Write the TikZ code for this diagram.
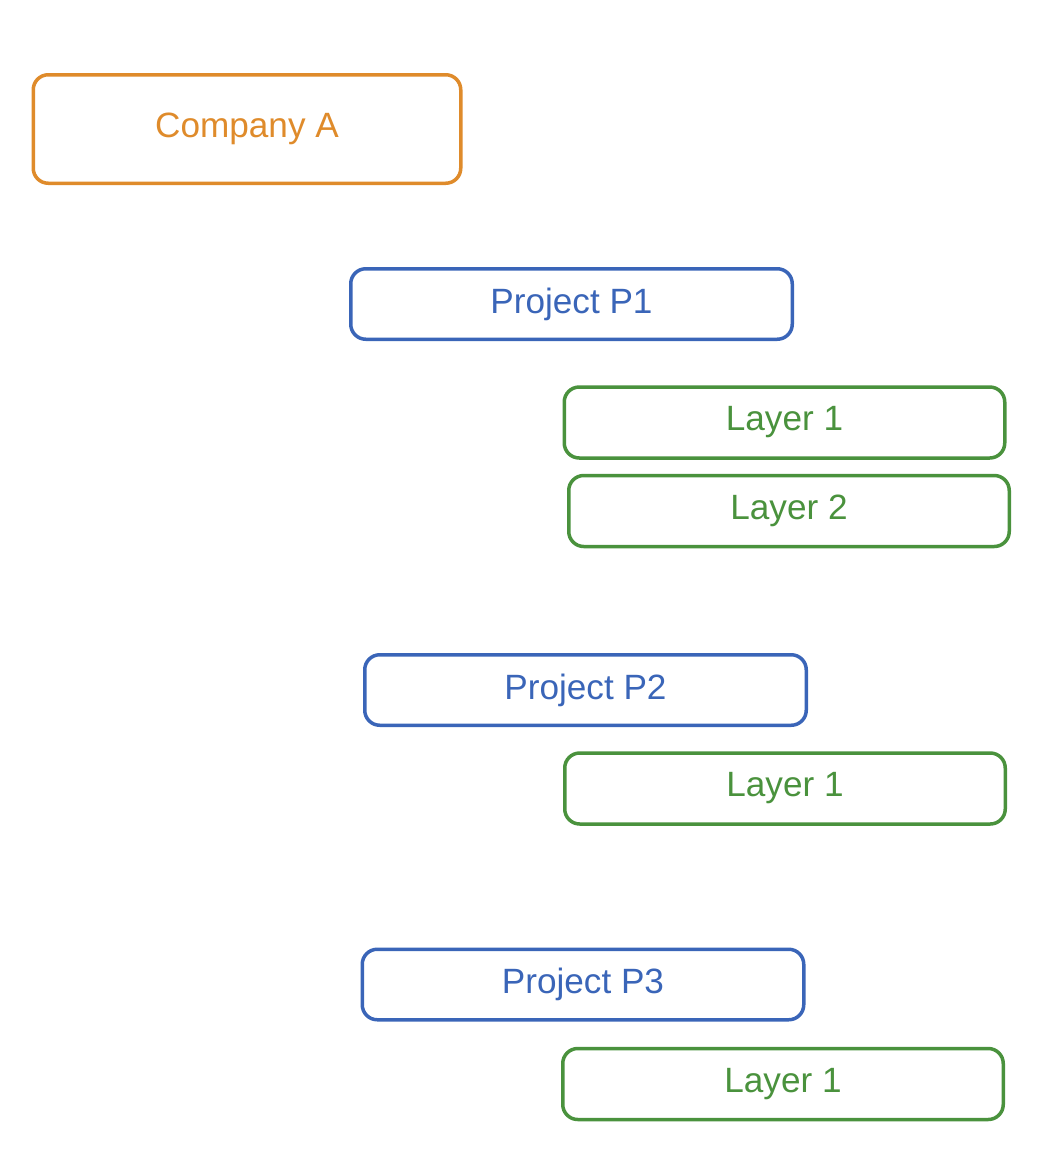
\documentclass[tikz,border=0pt]{standalone}
\usepackage{fontspec}
\setmainfont{Liberation Sans}
\usepackage{tikz}
\definecolor{companyorange}{HTML}{DF8B2B}
\definecolor{projectblue}{HTML}{3A65B8}
\definecolor{layergreen}{HTML}{4A923D}

\begin{document}
\begin{tikzpicture}[
		box/.style={draw, line width=0.07cm, rounded corners=0.3cm, inner sep=0pt, font=\fontsize{20}{24}\selectfont},
		company/.style={box, color=companyorange, minimum width=8.55cm, minimum height=2.17cm},
		project/.style={box, color=projectblue, minimum width=8.83cm, minimum height=1.41cm},
		layer/.style={box, color=layergreen, minimum width=8.81cm, minimum height=1.42cm}
	]
		%%%%% START %%%%%
		
		\useasboundingbox (0, 0) rectangle (21.28, -23.4);
		
		\node[company] (compA) at (4.94, -2.58) {Company A};
		
		\node[project] (projP1) at (11.43, -6.08) {Project P1};
		\node[layer] (p1layer1) at (15.69, -8.45) {Layer 1};
		\node[layer] (p1layer2) at (15.78, -10.22) {Layer 2};
		
		\node[project] (projP2) at (11.71, -13.8) {Project P2};
		\node[layer] (p2layer1) at (15.7, -15.77) {Layer 1};
		
		\node[project] (projP3) at (11.66, -19.69) {Project P3};
		\node[layer] (p3layer1) at (15.66, -21.68) {Layer 1};
		
		%%%%% END %%%%%
	\end{tikzpicture}
\end{document}
